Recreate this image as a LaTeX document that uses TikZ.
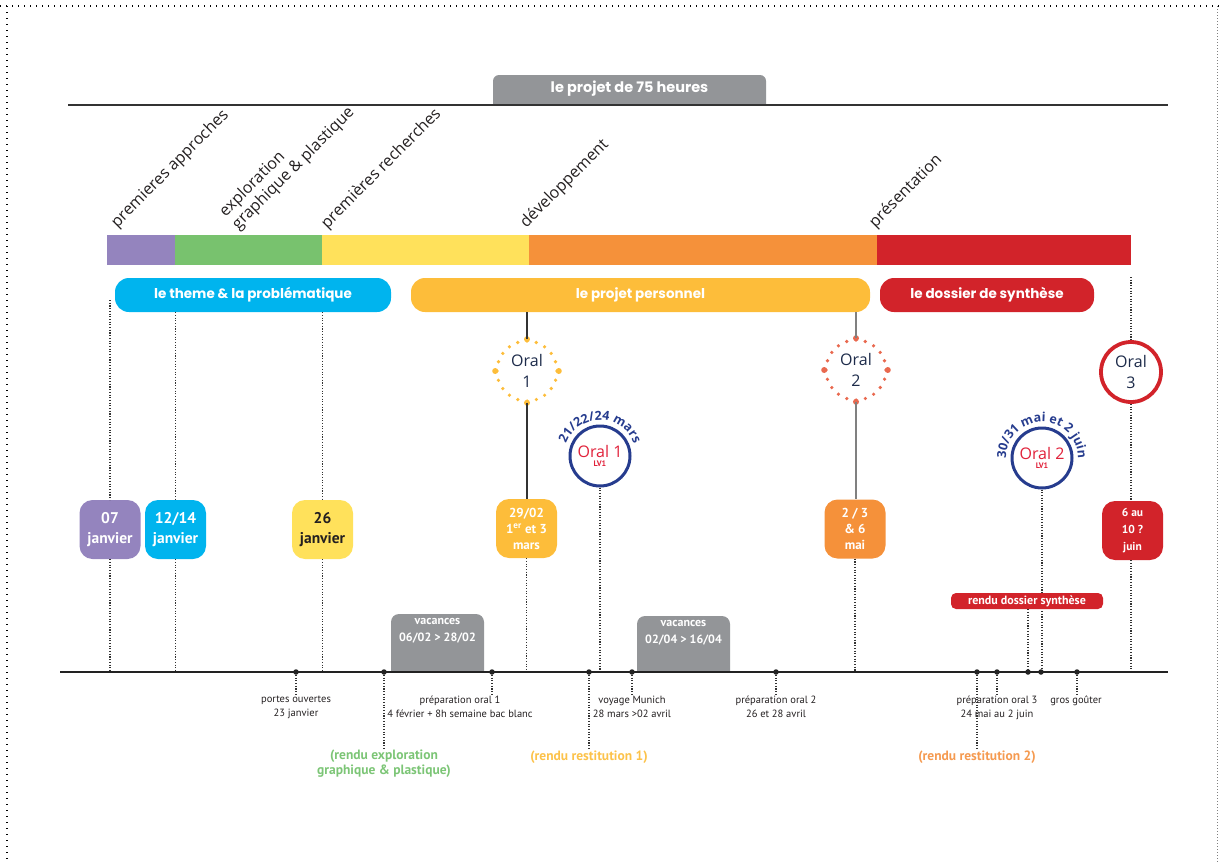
\documentclass[tikz,border=0pt]{standalone}
\usepackage{fontspec}
\setmainfont{PT Sans}
\newfontfamily\osans{Open Sans}
\newfontfamily\pop{Poppins}
\usetikzlibrary{decorations.text}
\definecolor{cpurple}{HTML}{9484BE}
\definecolor{cgreen}{HTML}{78C26E}
\definecolor{cyellow}{HTML}{FFE15B}
\definecolor{corange}{HTML}{F5913A}
\definecolor{cred}{HTML}{D2232A}
\definecolor{cblue}{HTML}{00B4EE}
\definecolor{cgold}{HTML}{FDBD3A}
\definecolor{tabgray}{HTML}{939598}
\definecolor{navy}{HTML}{263C8E}
\definecolor{salmon}{HTML}{E9694F}
\definecolor{lvred}{HTML}{E1213A}
\definecolor{labtxt}{HTML}{231F20}
\definecolor{oraltxt}{HTML}{1D2B4A}
\definecolor{dotcol}{HTML}{333333}
\definecolor{axcol}{HTML}{222222}
\definecolor{greentxt}{HTML}{7CC576}
\definecolor{goldtxt}{HTML}{FCC24A}
\definecolor{orangetxt}{HTML}{F59A50}
\tikzset{
 pillbox/.style={rounded corners=14pt, minimum height=34pt, inner sep=0pt, text=white, font=\pop\bfseries\fontsize{13.5}{16}\selectfont},
 datebox/.style={rounded corners=13pt, minimum width=61pt, minimum height=59pt, inner sep=0pt, text=white, align=center, font=\bfseries\fontsize{15.5}{20}\selectfont},
 datebox3/.style={datebox, font=\bfseries\fontsize{13}{16}\selectfont},
 rotlab/.style={rotate=45, anchor=south west, inner sep=0pt, align=left, text=labtxt, font=\osans\fontsize{16}{18}\selectfont},
 dotv/.style={line width=1.1pt, dash pattern=on 1.1pt off 1.6pt, color=dotcol},
 axdot/.style={circle, fill=axcol, inner sep=0pt, minimum size=5.5pt},
 axlab/.style={align=center, inner sep=1pt, text=labtxt, font=\fontsize{10.5}{14}\selectfont},
 rendulab/.style={align=center, inner sep=1pt, font=\bfseries\fontsize{13.5}{15}\selectfont},
 oralring/.style={circle, minimum size=60pt, inner sep=0pt, line width=3.6pt, line cap=round, align=center, font=\osans\fontsize{16}{21}\selectfont, text=oraltxt},
 lvcircle/.style={circle, draw=navy, line width=3pt, minimum size=60pt, inner sep=0pt, fill=white, align=center, text=lvred},
 vactext/.style={align=center, text=white, inner sep=0pt, font=\bfseries\fontsize{12}{17}\selectfont},
 solidlink/.style={line width=1.4pt, color=dotcol},
}
\begin{document}
\begin{tikzpicture}[x=1pt,y=1pt]
\useasboundingbox (0,0) rectangle (1219,-862);
% frame
\draw[line width=1.3pt, dash pattern=on 1.3pt off 4.7pt, black] (0,-6) -- (1219,-6);
\draw[line width=1.3pt, dash pattern=on 1.3pt off 4.7pt, black] (7,-6) -- (7,-862);
\draw[line width=1pt, dash pattern=on 1pt off 2pt, gray] (1217,-6) -- (1217,-862);

% title tab
\fill[tabgray] (493,-105) [rounded corners=6pt] -- (493,-75) -- (766,-75) [sharp corners] -- (766,-105) -- cycle;
\node[text=white, font=\pop\bfseries\fontsize{14.5}{15}\selectfont] (title) at (629.5,-89) {le projet de 75 heures};
\draw[line width=1.3pt, color=dotcol] (68,-105) -- (1168,-105);

% colour bar
\fill[cpurple] (107,-235) rectangle (175,-265);
\fill[cgreen] (175,-235) rectangle (322,-265);
\fill[cyellow] (322,-235) rectangle (529,-265);
\fill[corange] (529,-235) rectangle (877,-265);
\fill[cred] (877,-235) rectangle (1131,-265);

% rotated phase labels
\node[rotlab] (l1) at (120,-231) {premieres approches};
\node[rotlab] (l2) at (241,-233) {exploration\\graphique \& plastique};
\node[rotlab] (l3) at (330,-232) {premières recherches};
\node[rotlab] (l4) at (529,-231) {développement};
\node[rotlab] (l5) at (878,-231) {présentation};

% pills
\node[pillbox, fill=cblue, minimum width=276pt] (theme) at (253,-295) {le theme \& la problématique};
\node[pillbox, fill=cgold, minimum width=459pt] (pp) at (640.5,-295) {le projet personnel};
\node[pillbox, fill=cred, minimum width=214pt] (doss) at (987,-295) {le dossier de synthèse};

% axis
\coordinate (axL) at (60,-672);
\coordinate (axR) at (1168,-672);

% date boxes
\node[datebox, fill=cpurple] (d07) at (110,-529.5) {07\\janvier};
\node[datebox, fill=cblue] (d1214) at (175.5,-529.5) {12/14\\janvier};
\node[datebox, fill=cyellow, text=labtxt] (d26) at (322.5,-529.5) {26\\janvier};
\node[datebox3, fill=cgold] (d2902) at (526.5,-528.5) {29/02\\1\textsuperscript{er} et 3\\mars};
\node[datebox3, fill=corange] (dmai) at (855,-529) {2 / 3\\\& 6\\mai};
\node[datebox3, fill=cred, font=\bfseries\fontsize{11.5}{17}\selectfont] (djuin) at (1132.5,-530.5) {6 au\\10 ?\\juin};

% oral circles
\node[oralring, draw=cgold, dash pattern=on 0pt off 9.42pt] (o1) at (527,-371) {Oral\\1};
\foreach \a in {north,south,east,west} \fill[cgold] (o1.\a) circle (3);
\node[oralring, draw=salmon, dash pattern=on 0pt off 9.42pt] (o2) at (856,-370) {Oral\\2};
\foreach \a in {north,south,east,west} \fill[salmon] (o2.\a) circle (3);
\node[oralring, draw=cred, line width=3.8pt] (o3) at (1131,-372) {Oral\\3};

% LV1 circles
\node[lvcircle] (lv1) at (600,-456) {{\osans\fontsize{16}{16}\selectfont Oral 1}\\[-3pt]{\bfseries\fontsize{8}{8}\selectfont LV1}};
\node[lvcircle] (lv2) at (1042,-458) {{\osans\fontsize{16}{16}\selectfont Oral 2}\\[-3pt]{\bfseries\fontsize{8}{8}\selectfont LV1}};
\path[decorate, decoration={text along path, text align=center, text={|\osans\bfseries\fontsize{12.5}{13}\selectfont\color{navy}|21/22/24 mars}}] ([shift={(175:36)}]lv1.center) arc[start angle=175, end angle=5, radius=36];
\path[decorate, decoration={text along path, text align=center, text={|\osans\bfseries\fontsize{12.5}{13}\selectfont\color{navy}|30/31 mai et 2 juin}}] ([shift={(215:36)}]lv2.center) arc[start angle=215, end angle=-35, radius=36];

% links pills -> orals -> date boxes
\draw[solidlink] (pp.south -| o1) -- (o1.north);
\draw[solidlink] (o1.south) -- (d2902.north -| o1);
\draw[solidlink, color=gray] (pp.south -| o2) -- (o2.north);
\draw[solidlink, color=gray] (o2.south) -- (dmai.north -| o2);

% dotted verticals
\coordinate (p07) at (110,-300);
\draw[dotv] (p07) -- (d07.north);
\draw[dotv] (d07.south) -- (d07 |- axL);
\draw[dotv] (theme.south -| d1214) -- (d1214.north);
\draw[dotv] (d1214.south) -- (d1214 |- axL);
\draw[dotv] (theme.south -| d26) -- (d26.north);
\draw[dotv] (d26.south) -- (d26 |- axL);
\draw[dotv] (d2902.south) -- (d2902 |- axL);
\draw[dotv] (dmai.south) -- (dmai |- axL);
\coordinate (o3top) at (1131,-277);
\draw[dotv] (o3top) -- (o3.north);
\draw[dotv] (o3.south) -- (djuin.north -| o3);
\draw[dotv] (djuin.south -| o3) -- (o3 |- axL);
\draw[dotv] (lv1.south) -- (lv1 |- axL);
\draw[dotv] (lv2.south) -- (lv2 |- axL);

% vacances
\fill[tabgray] (391,-672) [rounded corners=8pt] -- (391,-614) -- (484,-614) [sharp corners] -- (484,-672) -- cycle;
\node[vactext] (vac1) at (437.5,-631) {vacances\\06/02 > 28/02};
\fill[tabgray] (637,-672) [rounded corners=8pt] -- (637,-616) -- (730,-616) [sharp corners] -- (730,-672) -- cycle;
\node[vactext] (vac2) at (683.5,-633) {vacances\\02/04 > 16/04};

% rendu dossier synthese
\node[fill=cred, rounded corners=5pt, minimum width=152pt, minimum height=16pt, inner sep=0pt, text=white, font=\bfseries\fontsize{12}{12}\selectfont] (rds) at (1027,-601) {rendu dossier synthèse};

% axis line
\draw[line width=1.4pt, color=axcol] (axL) -- (axR);

% axis dots
\foreach \n/\x in {a1/296, a2/384, a3/492, a4/589, a5/632, a6/776, a7/977, a8/997, a9/1028, a10/1041, a11/1077}
  \node[axdot] (\n) at (\x,-672) {};

% labels under the axis
\node[axlab] (lpo) at (296,-707) {portes ouvertes\\23 janvier};
\node[axlab] (lpr1) at (460,-707) {préparation oral 1\\4 février + 8h semaine bac blanc};
\node[axlab] (lpr2) at (776,-707) {préparation oral 2\\26 et 28 avril};
\node[axlab] (lpr3) at (997,-708) {préparation oral 3\\24 mai au 2 juin};
\node[axlab] (lgg) at (1076,-701) {gros goûter};
\node[rendulab, text=greentxt] (rexp) at (384,-764) {(rendu exploration\\graphique \& plastique)};
\node[rendulab, text=goldtxt] (rr1) at (589,-757) {(rendu restitution 1)};
\node[rendulab, text=orangetxt] (rr2) at (977,-757) {(rendu restitution 2)};

\draw[dotv] (a1) -- (lpo.north -| a1);
\draw[dotv] (a2) -- (rexp.north -| a2);
\draw[dotv] (a3) -- (lpr1.north -| a3);
\draw[dotv] (a4) -- (rr1.north -| a4);
\node[axlab, fill=white, inner sep=0.5pt] (lvm) at (632,-707) {voyage Munich\\28 mars >02 avril};
\draw[dotv] (a5) -- (lvm.north -| a5);
\draw[dotv] (a6) -- (lpr2.north -| a6);
\draw[dotv] (a7) -- (rr2.north -| a7);
\draw[dotv] (a8) -- (lpr3.north -| a8);
\draw[dotv] (rds.south -| a9) -- (a9);
\draw[dotv] (a11) -- (lgg.north -| a11);
\end{tikzpicture}
\end{document}
